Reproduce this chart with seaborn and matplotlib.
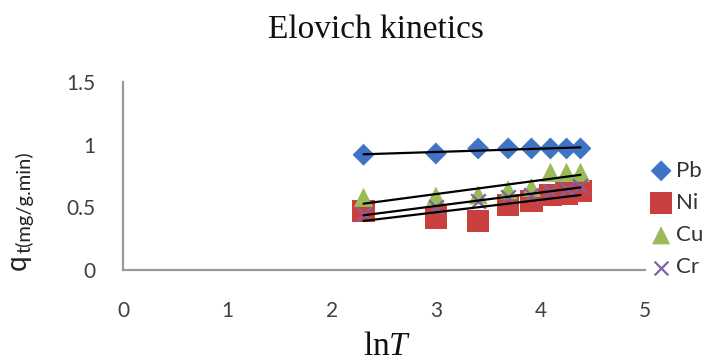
import numpy as np
import pandas as pd
import matplotlib
matplotlib.use("Agg")
import matplotlib.pyplot as plt
import seaborn as sns

ln_t = [2.303, 2.996, 3.401, 3.689, 3.912, 4.094, 4.248, 4.382]
pb = [0.92, 0.93, 0.97, 0.97, 0.97, 0.97, 0.97, 0.97]
ni = [0.47, 0.42, 0.39, 0.52, 0.55, 0.60, 0.61, 0.63]
cu = [0.58, 0.59, 0.60, 0.64, 0.66, 0.78, 0.78, 0.78]
cr = [0.45, 0.50, 0.55, 0.58, 0.60, 0.63, 0.65, 0.67]
metals = ["Pb", "Ni", "Cu", "Cr"]
colors = {"Pb": "#3F74C4", "Ni": "#C9403F", "Cu": "#9BBB59", "Cr": "#8064A2"}
markers = {"Pb": "D", "Ni": "s", "Cu": "^", "Cr": "x"}
sizes = {"Pb": 125, "Ni": 260, "Cu": 190, "Cr": 110}

rows = []
for name, vals in zip(metals, [pb, ni, cu, cr]):
    for x, y in zip(ln_t, vals):
        rows.append({"lnT": x, "qt": y, "metal": name})
df = pd.DataFrame(rows)

sns.set_style("white")
plt.rcParams["mathtext.fontset"] = "custom"
plt.rcParams["mathtext.rm"] = "Liberation Serif"
plt.rcParams["mathtext.it"] = "Liberation Serif:italic"

fig, ax = plt.subplots(figsize=(7.08, 3.63), dpi=100)
fig.subplots_adjust(left=0.174, right=0.911, bottom=0.256, top=0.774)

for m in metals:
    sub = df[df.metal == m]
    if m == "Cr":
        ax.scatter(sub.lnT, sub.qt, marker="x", s=sizes[m], c=colors[m],
                   linewidths=1.6, label=m, zorder=2)
    else:
        sns.scatterplot(data=sub, x="lnT", y="qt", marker=markers[m], s=sizes[m],
                        color=colors[m], edgecolor="none", label=m, ax=ax, zorder=2)
for m in metals:
    sub = df[df.metal == m]
    sns.regplot(data=sub, x="lnT", y="qt", scatter=False, ci=None,
                line_kws={"color": "black", "lw": 1.6, "zorder": 3}, ax=ax)

ax.set_xlim(0, 5)
ax.set_ylim(0, 1.5)
ax.set_xticks([0, 1, 2, 3, 4, 5])
ax.set_yticks([0, 0.5, 1, 1.5])
ax.set_yticklabels(["0", "0.5", "1", "1.5"])
ax.tick_params(axis="x", labelsize=15, colors="#404040", length=0, pad=22)
ax.tick_params(axis="y", labelsize=15, colors="#404040", length=0, pad=20)
for lab in ax.get_xticklabels() + ax.get_yticklabels():
    lab.set_family("Lato")
for s in ["top", "right"]:
    ax.spines[s].set_visible(False)
for s in ["left", "bottom"]:
    ax.spines[s].set_color("#9a9a9a")
    ax.spines[s].set_linewidth(1.6)

ax.set_xlabel("")
ax.set_ylabel("")
fig.text(376 / 708, 1 - 38 / 363, "Elovich kinetics", fontsize=24,
         family="Liberation Serif", ha="center", va="baseline", color="#111111")
fig.text(387 / 708, 1 - 355 / 363, r"ln$\mathit{T}$", fontsize=24,
         family="Liberation Serif", ha="center", va="baseline", color="#111111")
# y-axis label: "q" with subscript "t(mg/g.min)", rotated
fig.text(26 / 708, 1 - 270 / 363, "q", fontsize=20, family="Lato", rotation=90,
         rotation_mode="anchor", ha="left", va="baseline", color="#222222")
fig.text(31 / 708, 1 - 253 / 363, "t(mg/g.min)", fontsize=14.5, family="Lato", rotation=90,
         rotation_mode="anchor", ha="left", va="baseline", color="#222222")

h, l = ax.get_legend_handles_labels()
leg = ax.legend(h[:4], l[:4], loc="center left", bbox_to_anchor=(650 / 708, 1 - 219 / 363),
                bbox_transform=fig.transFigure, borderaxespad=0, borderpad=0,
                frameon=False, handletextpad=0.15, labelspacing=0.55,
                handlelength=1.0, markerscale=0.95, prop={"family": "Lato", "size": 16})
for t in leg.get_texts():
    t.set_color("#333333")

fig.savefig("out.png", dpi=100)
